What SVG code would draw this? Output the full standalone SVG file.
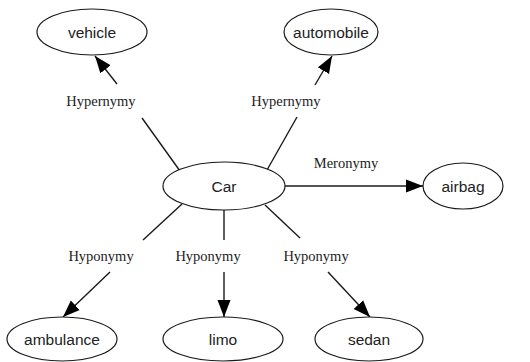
<svg xmlns="http://www.w3.org/2000/svg" width="530" height="362" viewBox="0 0 530 362">
<style>
.n ellipse{fill:#fff;stroke:#1a1a1a;stroke-width:1.2}
.n text{font-family:"Liberation Sans",Arial,sans-serif;font-size:15.5px;fill:#222;text-anchor:middle}
.e line{stroke:#1a1a1a;stroke-width:1.4}
.e text{font-family:"Liberation Serif","Times New Roman",serif;font-size:14.5px;fill:#222;text-anchor:middle}
</style>
<defs>
<marker id="ah" markerUnits="userSpaceOnUse" markerWidth="17" markerHeight="14" refX="17" refY="7" orient="auto">
<path d="M0,0.5 L17,7 L0,13.5 Z" fill="#000"/>
</marker>
</defs>
<rect width="530" height="362" fill="#fff"/>
<g class="e" id="connectors">
<line x1="180" y1="171" x2="142" y2="118"/>
<line x1="117" y1="84" x2="95" y2="56" marker-end="url(#ah)"/>
<text x="101" y="106">Hypernymy</text>
<line x1="267" y1="170" x2="297" y2="117"/>
<line x1="315" y1="85" x2="332" y2="56" marker-end="url(#ah)"/>
<text x="286" y="106">Hypernymy</text>
<line x1="285" y1="186" x2="423" y2="186" marker-end="url(#ah)"/>
<text x="346" y="168">Meronymy</text>
<line x1="182" y1="204" x2="143" y2="240"/>
<line x1="110" y1="272" x2="63" y2="317" marker-end="url(#ah)"/>
<text x="101" y="261">Hyponymy</text>
<line x1="224" y1="210" x2="224" y2="240"/>
<line x1="224" y1="272" x2="224" y2="317" marker-end="url(#ah)"/>
<text x="208" y="261">Hyponymy</text>
<line x1="265" y1="205" x2="300" y2="238"/>
<line x1="328" y1="272" x2="370" y2="317" marker-end="url(#ah)"/>
<text x="316" y="261">Hyponymy</text>
</g>
<g class="n" id="vehicle"><ellipse cx="92" cy="32" rx="55" ry="23"/><text x="92" y="37.5">vehicle</text></g>
<g class="n" id="automobile"><ellipse cx="331" cy="32" rx="47" ry="23"/><text x="331" y="37.5">automobile</text></g>
<g class="n" id="car"><ellipse cx="224" cy="186" rx="61" ry="24"/><text x="224" y="191.5">Car</text></g>
<g class="n" id="airbag"><ellipse cx="463" cy="186" rx="40" ry="23"/><text x="463" y="191.5">airbag</text></g>
<g class="n" id="ambulance"><ellipse cx="62" cy="339" rx="55" ry="22"/><text x="62" y="344.5">ambulance</text></g>
<g class="n" id="limo"><ellipse cx="223" cy="339" rx="60" ry="22"/><text x="223" y="344.5">limo</text></g>
<g class="n" id="sedan"><ellipse cx="369" cy="339" rx="54" ry="22"/><text x="369" y="344.5">sedan</text></g>
</svg>
